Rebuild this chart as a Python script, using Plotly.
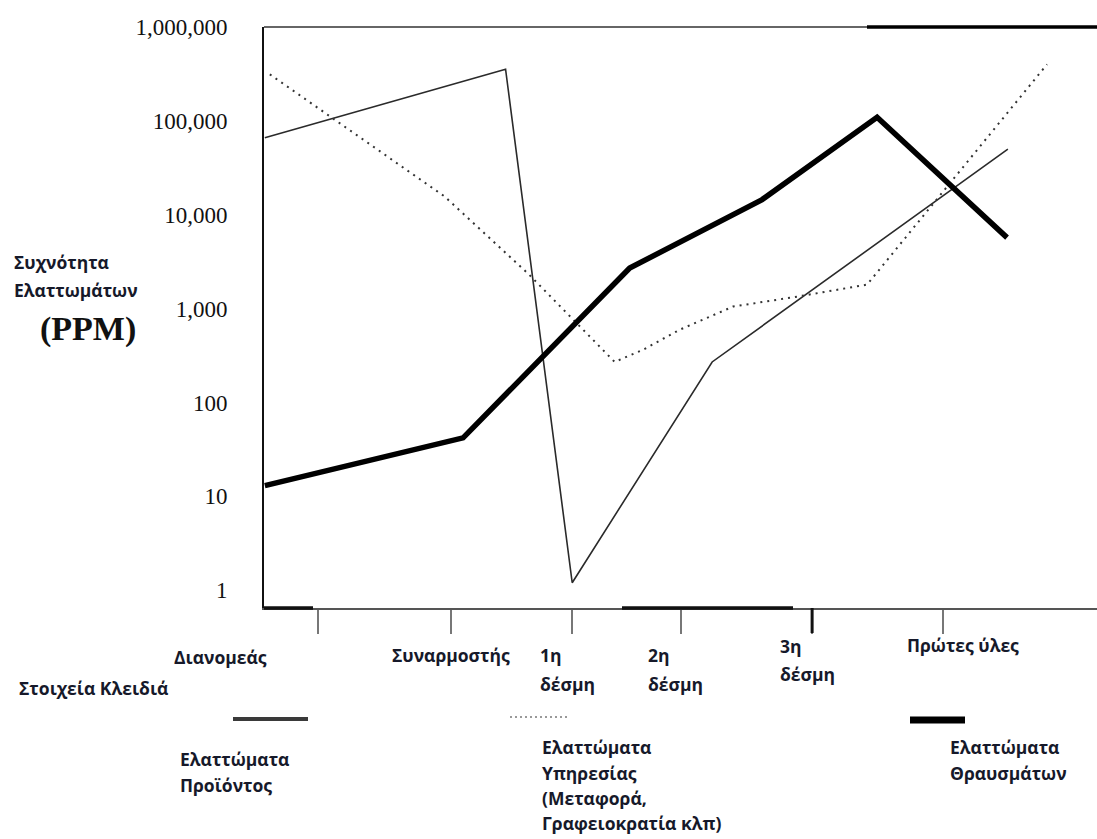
import plotly.graph_objects as go

# ---------------- data ----------------
# x: position along the supply chain (0 = left axis, 100 = right edge)
stage_ticks = [6.5, 22.45, 36.95, 50.05, 65.8, 81.5]

product_x = [0.1, 29.0, 37.0, 53.8, 89.3]
product_ppm = [66000, 355000, 1.2, 270, 50000]

service_x = [0.7, 21.7, 31.7, 42.1, 45.5, 49.9, 56.3, 64.0, 72.4, 94.0]
service_ppm = [313000, 15600, 2360, 270, 364, 595, 1050, 1340, 1800, 400000]

scrap_x = [0.1, 23.9, 43.9, 59.8, 73.6, 89.2]
scrap_ppm = [13, 42, 2700, 14500, 109000, 5700]

y_tickvals = [1, 10, 100, 1000, 10000, 100000, 1000000]
y_ticktext = ["1", "10", "100", "1,000", "10,000", "100,000", "1,000,000"]

stage_labels = [
    ("Διανομεάς", 172, 657),
    ("Συναρμοστής", 390, 655),
    ("1η", 538, 655), ("δέσμη", 538, 684),
    ("2η", 646, 655), ("δέσμη", 646, 684),
    ("3η", 778, 646), ("δέσμη", 778, 674),
    ("Πρώτες ύλες", 905, 645),
    ("Στοιχεία Κλειδιά", 17, 688),
]

legend_labels = [
    ("Ελαττώματα", 178, 759), ("Προϊόντος", 178, 785),
    ("Ελαττώματα", 540, 747), ("Υπηρεσίας", 540, 773),
    ("(Μεταφορά,", 540, 798), ("Γραφειοκρατία κλπ)", 540, 823),
    ("Ελαττώματα", 948, 747), ("Θραυσμάτων", 948, 773),
]

# ---------------- geometry helpers (pixel -> paper) ----------------
W, H = 1097, 839
L, T, B = 264, 27, 608
PW, PH = W - L, B - T


def px(x):
    return (x - L) / PW


def py(y):
    return (B - y) / PH


TXT = "#16192a"
GFONT = dict(family="Open Sans", size=17.5, color=TXT)

fig = go.Figure()
fig.add_trace(go.Scatter(x=product_x, y=product_ppm, mode="lines",
                         line=dict(color="#2a2a2a", width=1.6),
                         name="Ελαττώματα Προϊόντος", showlegend=False))
fig.add_trace(go.Scatter(x=service_x, y=service_ppm, mode="lines",
                         line=dict(color="#333333", width=2, dash="2px,5px"),
                         name="Ελαττώματα Υπηρεσίας", showlegend=False))
fig.add_trace(go.Scatter(x=scrap_x, y=scrap_ppm, mode="lines",
                         line=dict(color="#000000", width=5.5),
                         name="Ελαττώματα Θραυσμάτων", showlegend=False))

shapes = []
# top border: thin then thick
shapes.append(dict(type="line", xref="paper", yref="paper", x0=0, x1=px(867), y0=1, y1=1,
                   line=dict(color="#666666", width=2)))
shapes.append(dict(type="line", xref="paper", yref="paper", x0=px(867), x1=1, y0=1, y1=1,
                   line=dict(color="#000000", width=3.5)))
# bottom thick segments
for a, b in [(264, 313), (622, 793)]:
    shapes.append(dict(type="line", xref="paper", yref="paper", x0=px(a), x1=px(b), y0=0, y1=0,
                       line=dict(color="#111111", width=3.5)))
# darker tick under 3η δέσμη
shapes.append(dict(type="line", xref="x", yref="paper", x0=stage_ticks[4], x1=stage_ticks[4],
                   y0=0, y1=py(633), line=dict(color="#111111", width=3)))
# legend samples
shapes.append(dict(type="line", xref="paper", yref="paper", x0=px(233), x1=px(308),
                   y0=py(719), y1=py(719), line=dict(color="#3a3a3a", width=4)))
shapes.append(dict(type="line", xref="paper", yref="paper", x0=px(510), x1=px(567),
                   y0=py(717), y1=py(717), line=dict(color="#999999", width=2, dash="2px,3px")))
shapes.append(dict(type="line", xref="paper", yref="paper", x0=px(910), x1=px(965),
                   y0=py(720), y1=py(720), line=dict(color="#000000", width=7)))

annotations = []
for text, x, y in stage_labels + legend_labels:
    annotations.append(dict(text=f"<b>{text}</b>", xref="paper", yref="paper",
                            x=px(x), y=py(y), xanchor="left", yanchor="middle",
                            showarrow=False, font=GFONT))
# y-axis title
annotations.append(dict(text="<b>Συχνότητα</b>", xref="paper", yref="paper", x=px(12), y=py(262),
                        xanchor="left", yanchor="middle", showarrow=False, font=GFONT))
annotations.append(dict(text="<b>Ελαττωμάτων</b>", xref="paper", yref="paper", x=px(12), y=py(290),
                        xanchor="left", yanchor="middle", showarrow=False, font=GFONT))
annotations.append(dict(text="<b>(PPM)</b>", xref="paper", yref="paper", x=px(88), y=py(329),
                        xanchor="center", yanchor="middle", showarrow=False,
                        font=dict(family="Liberation Serif", size=34, color="#111111")))

fig.update_layout(
    width=W, height=H,
    margin=dict(l=L, r=0, t=T, b=H - B, pad=0),
    paper_bgcolor="white", plot_bgcolor="white",
    showlegend=False,
    shapes=shapes, annotations=annotations,
    xaxis=dict(range=[0, 100], showgrid=False, zeroline=False,
               showline=True, linecolor="#555555", linewidth=2,
               tickmode="array", tickvals=stage_ticks, ticktext=[""] * len(stage_ticks),
               ticks="outside", ticklen=24, tickwidth=2, tickcolor="#777777",
               showticklabels=False, fixedrange=True),
    yaxis=dict(type="log", range=[-0.19, 6.0], showgrid=False, zeroline=False,
               showline=True, linecolor="#111111", linewidth=2,
               tickmode="array", tickvals=y_tickvals, ticktext=y_ticktext,
               ticks="", ticklabelstandoff=30,
               tickfont=dict(family="Liberation Serif", size=23, color="#111111"),
               fixedrange=True),
)

fig.write_html("out.html", config={"displayModeBar": False},
               post_script="document.body.style.margin='0';")
